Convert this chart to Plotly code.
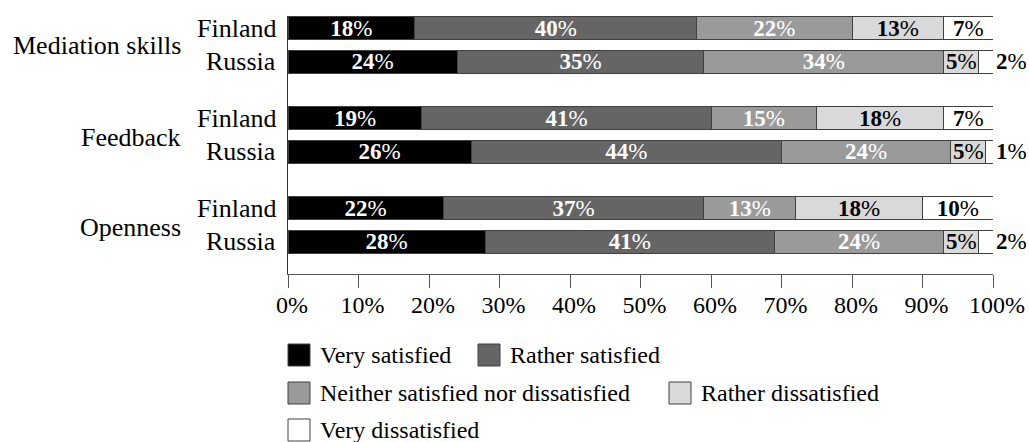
import plotly.graph_objects as go

# ---------------- data ----------------
groups = ["Mediation skills", "Feedback", "Openness"]
countries = ["Finland", "Russia"]
series_names = ["Very satisfied", "Rather satisfied",
                "Neither satisfied nor dissatisfied", "Rather dissatisfied",
                "Very dissatisfied"]
# order of rows: Med-Finland, Med-Russia, Fb-Finland, Fb-Russia, Op-Finland, Op-Russia
very_satisfied = [18, 24, 19, 26, 22, 28]
rather_satisfied = [40, 35, 41, 44, 37, 41]
neither = [22, 34, 15, 24, 13, 24]
rather_dissatisfied = [13, 5, 18, 5, 18, 5]
very_dissatisfied = [7, 2, 7, 1, 10, 2]
x_ticks = [0, 10, 20, 30, 40, 50, 60, 70, 80, 90, 100]
x_tick_labels = [f"{t}%" for t in x_ticks]

# ---------------- styling ----------------
W, H = 1029, 442
ML, MR, MT, MB = 288, 36, 16, 168
PLOT_H = H - MT - MB
FONT = "Liberation Serif, DejaVu Serif, serif"
fills = ["#000000", "#656565", "#9a9a9a", "#d9d9d9", "#ffffff"]
txt_cols = ["white", "white", "white", "black", "black"]
EDGE = "#404040"

ROW_GAP, GROUP_GAP, FIRST = 33.75, 90, 12
ypos = [FIRST + g * GROUP_GAP + c * ROW_GAP
        for g in range(len(groups)) for c in range(len(countries))]

all_series = [very_satisfied, rather_satisfied, neither,
              rather_dissatisfied, very_dissatisfied]

fig = go.Figure()
for i, (name, vals) in enumerate(zip(series_names, all_series)):
    if i == 4:
        pos = ["inside" if r % 2 == 0 else "outside" for r in range(len(vals))]
    else:
        pos = "inside"
    fig.add_trace(go.Bar(
        y=ypos, x=vals, orientation="h", name=name,
        width=22.5,
        marker=dict(color=fills[i], line=dict(color=EDGE, width=1)),
        text=[f"<b>{v}</b>%" for v in vals],
        textposition=pos,
        insidetextanchor="middle",
        textangle=0,
        constraintext="none",
        cliponaxis=False,
        insidetextfont=dict(family=FONT, size=23, color=txt_cols[i]),
        outsidetextfont=dict(family=FONT, size=23, color="black"),
        showlegend=False,
        hoverinfo="skip",
    ))

fig.update_layout(
    width=W, height=H,
    margin=dict(l=ML, r=MR, t=MT, b=MB, pad=0, autoexpand=False),
    barmode="stack",
    paper_bgcolor="white", plot_bgcolor="white",
    font=dict(family=FONT, size=24, color="black"),
    uniformtext=dict(mode="show", minsize=23),
    xaxis=dict(range=[0, 100], tickmode="array", tickvals=x_ticks,
               ticktext=x_tick_labels, automargin=False,
               ticks="outside", ticklen=13, tickcolor="#555555", tickwidth=1,
               showline=True, linecolor="#555555", linewidth=1,
               showgrid=False, zeroline=False,
               tickfont=dict(family=FONT, size=24, color="black"),
               ticklabelshift=4, ticklabelstandoff=-4, fixedrange=True),
    yaxis=dict(range=[PLOT_H, 0], showticklabels=False, ticks="",
               automargin=False,
               showline=True, linecolor="#333333", linewidth=1,
               showgrid=False, zeroline=False, fixedrange=True),
)

# country and group labels
for idx, y in enumerate(ypos):
    fig.add_annotation(x=0, xref="paper", y=y, yref="y",
                       text=countries[idx % 2], showarrow=False,
                       xanchor="right", yanchor="middle", xshift=-10,
                       font=dict(family=FONT, size=26, color="black"))
for g, name in enumerate(groups):
    ymid = (ypos[2 * g] + ypos[2 * g + 1]) / 2
    fig.add_annotation(x=0, xref="paper", y=ymid, yref="y",
                       text=name, showarrow=False,
                       xanchor="right", yanchor="middle", xshift=-105,
                       yshift=-1 if g == 0 else -3,
                       font=dict(family=FONT, size=26, color="black"))

# custom legend (pixel layout converted to paper coords)
def px_x(p):
    return (p - ML) / (W - ML - MR)

def px_y(p):
    return (H - MB - p) / PLOT_H

legend_layout = [  # (series index, square left px, row center px)
    (0, 288, 355), (1, 478, 355),
    (2, 288, 393), (3, 669, 393),
    (4, 288, 430),
]
SQ = 22
for si, left, cy in legend_layout:
    fig.add_shape(type="rect", xref="paper", yref="paper",
                  x0=px_x(left), x1=px_x(left + SQ),
                  y0=px_y(cy + SQ / 2), y1=px_y(cy - SQ / 2),
                  fillcolor=fills[si], line=dict(color=EDGE, width=1))
    fig.add_annotation(x=px_x(left + SQ + 8), xref="paper",
                       y=px_y(cy), yref="paper",
                       text=series_names[si], showarrow=False,
                       xanchor="left", yanchor="middle",
                       font=dict(family=FONT, size=24, color="black"))

fig.write_html("out.html", config={"displayModeBar": False})
